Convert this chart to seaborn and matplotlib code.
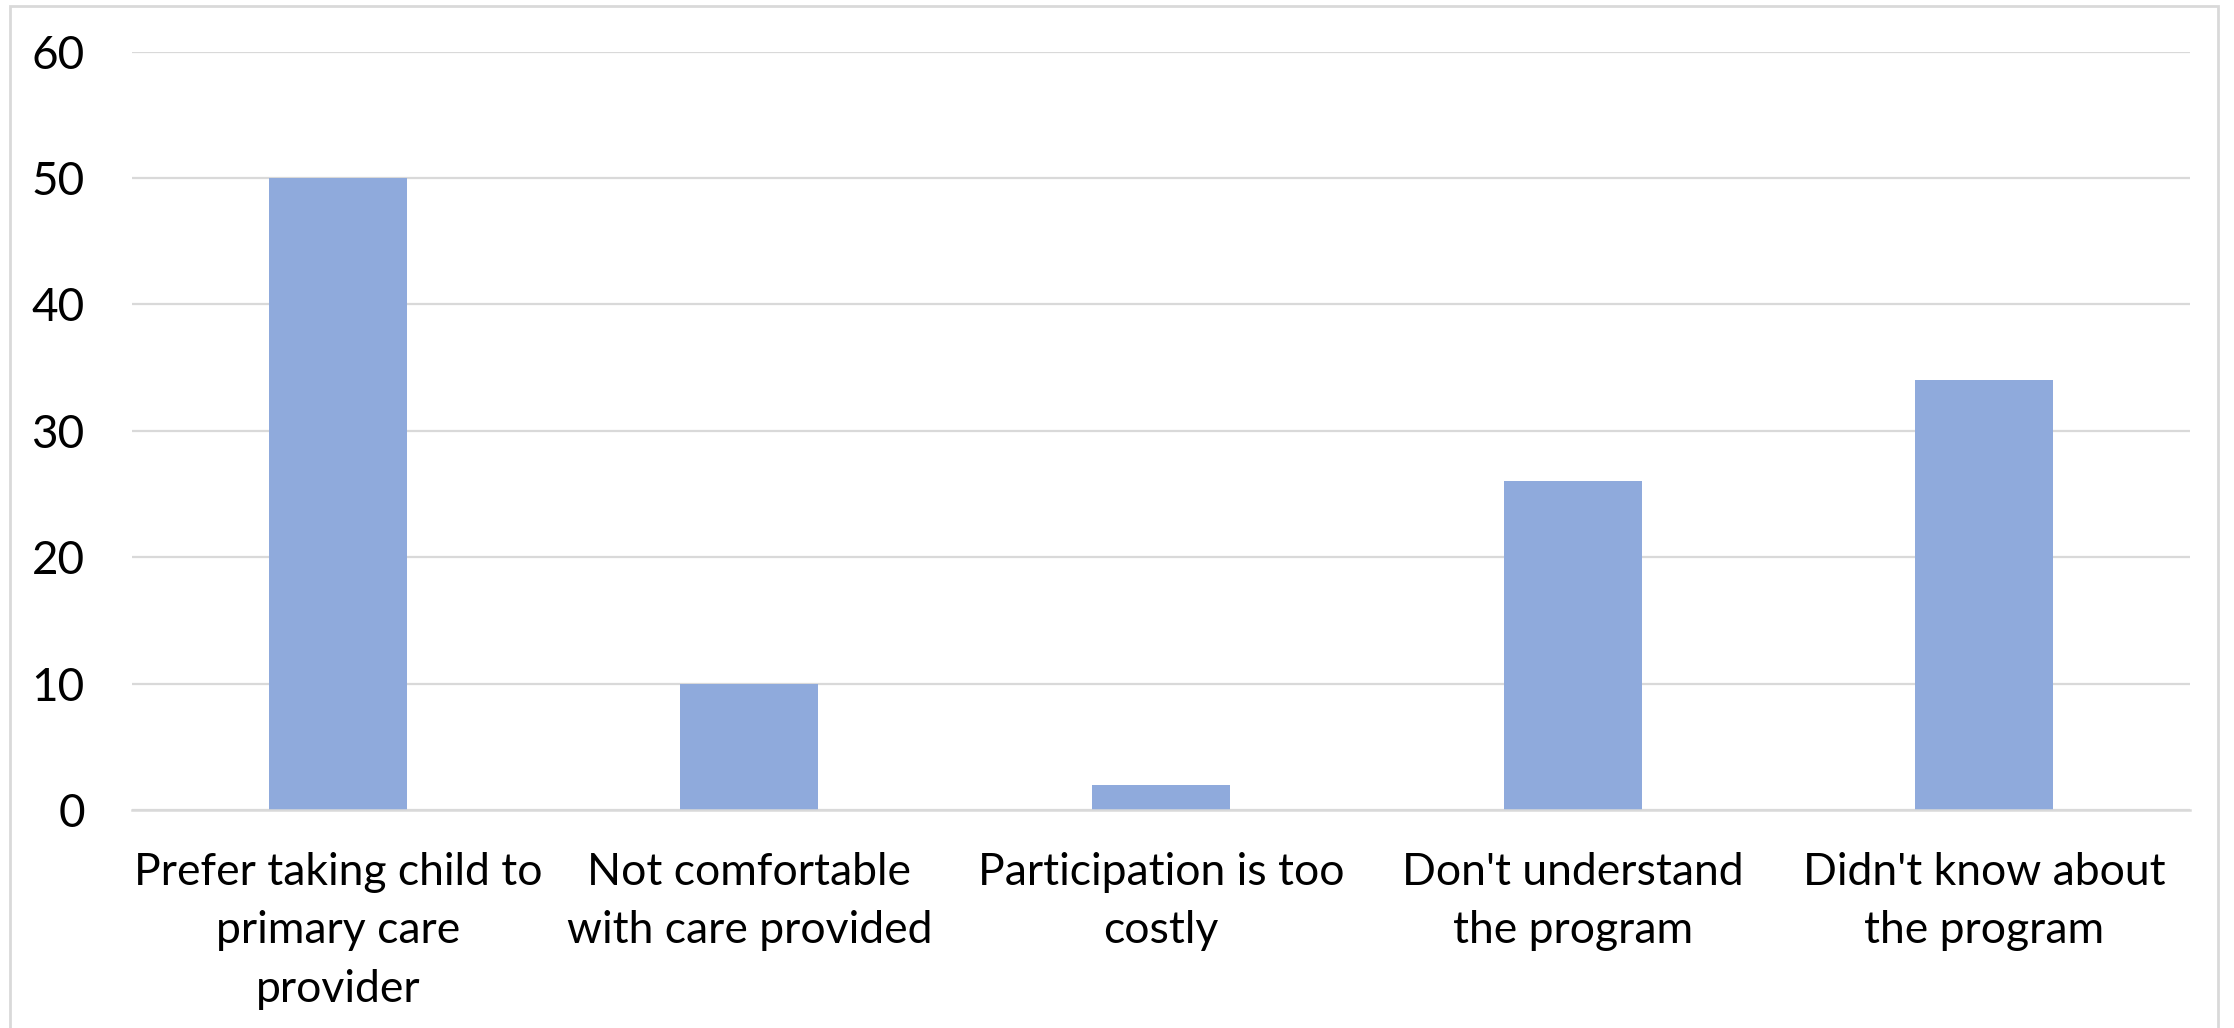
import matplotlib
matplotlib.use("Agg")
import matplotlib.pyplot as plt
import seaborn as sns
import pandas as pd
from matplotlib.patches import Rectangle

categories = [
    "Prefer taking child to\nprimary care\nprovider",
    "Not comfortable\nwith care provided",
    "Participation is too\ncostly",
    "Don't understand\nthe program",
    "Didn't know about\nthe program",
]
values = [50, 10, 2, 26, 34]
yticks = [0, 10, 20, 30, 40, 50, 60]

sns.set_theme(style="white")
plt.rcParams['font.family'] = ['Lato', 'DejaVu Sans']

df = pd.DataFrame({"reason": categories, "count": values})

fig = plt.figure(figsize=(22.34, 10.28), dpi=100)
ax = fig.add_axes([0.0591, 0.2121, 0.9803 - 0.0591, 0.9499 - 0.2121])

sns.barplot(data=df, x="reason", y="count", color="#8FAADC", saturation=1,
            width=0.335, linewidth=0, ax=ax)

ax.set_ylim(0, 60)
ax.set_xlim(-0.5, len(categories) - 0.5)
ax.set_yticks(yticks)
ax.yaxis.grid(True, color="#D9D9D9", linewidth=1.6)
ax.set_axisbelow(True)
for s in ["top", "right", "left"]:
    ax.spines[s].set_visible(False)
ax.spines["bottom"].set_color("#D9D9D9")
ax.spines["bottom"].set_linewidth(1.8)
ax.set_xlabel("")
ax.set_ylabel("")
ax.tick_params(axis="y", length=0, pad=34, labelsize=33, labelcolor="black")
ax.tick_params(axis="x", length=0, pad=30, labelsize=32, labelcolor="black")
for lab in ax.get_xticklabels():
    lab.set_linespacing(1.53)

fig.patches.append(Rectangle((10 / 2234, -0.1), (2218 - 10) / 2234, 1.1 - 6 / 1028,
                             transform=fig.transFigure, fill=False,
                             edgecolor="#D9D9D9", linewidth=2, figure=fig))

fig.savefig("out.png", dpi=100, facecolor="white")
